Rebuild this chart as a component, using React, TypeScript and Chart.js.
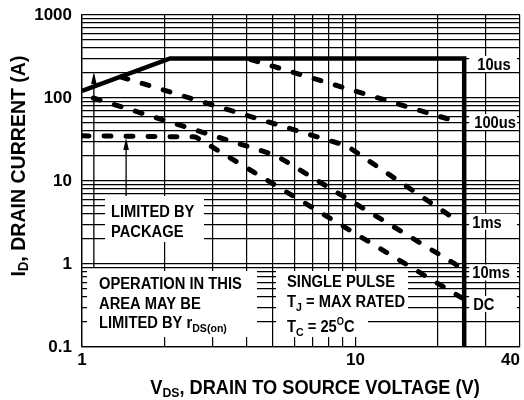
import React, { useEffect, useRef } from 'react';
import { Chart, registerables } from 'chart.js';

Chart.register(...registerables);

const FONT = '"Liberation Sans", Arial, Helvetica, sans-serif';

// ---- data (V_DS in volts, I_D in amperes) ----
const rdsOnLimitV = [1, 2.1, 25, 25];
const rdsOnLimitI = [122, 300, 300, 0.1];
const pulse100usV = [4.15, 23];
const pulse100usI = [290, 53];
const pulse1msV = [1.39, 9.3, 24];
const pulse1msI = [179, 26.5, 3.2];
const pulse10msV = [1.1, 5.1, 24];
const pulse10msI = [100, 20.5, 0.93];
const dcV = [1, 2.6, 24.5];
const dcI = [35, 34, 0.39];

// ---- axes ----
const xGridValues = [1, 2, 3, 4, 5, 6, 7, 8, 9, 10, 20, 30, 40];
const xLabelValues = [1, 10, 40];
const yGridValues = [
  0.1, 0.2, 0.3, 0.4, 0.5, 0.6, 0.7, 0.8, 0.9,
  1, 2, 3, 4, 5, 6, 7, 8, 9,
  10, 20, 30, 40, 50, 60, 70, 80, 90,
  100, 200, 300, 400, 500, 600, 700, 800, 900,
  1000,
];
const yLabelValues = [0.1, 1, 10, 100, 1000];

// ---- curve names at right edge ----
const curveNames = ['10us', '100us', '1ms', '10ms', 'DC'];
const curveNameLevels = [257, 51.4, 3.23, 0.79, 0.33];
const curveNameShift = [13, 10, 8, 8, 9];

// ---- arrows (V, I from, I to) ----
const arrowV = [1.105, 1.45];
const arrowFromI = [0.9, 6.4];
const arrowToI = [205, 33];

type Part = { t: string; size?: number; dy?: number };

function drawParts(
  ctx: CanvasRenderingContext2D,
  parts: Part[],
  x: number,
  y: number,
  hs: number,
  baseSize: number,
  center = false
) {
  ctx.save();
  let total = 0;
  for (const p of parts) {
    ctx.font = `bold ${p.size ?? baseSize}px ${FONT}`;
    total += ctx.measureText(p.t).width;
  }
  ctx.translate(x, y);
  ctx.scale(hs, 1);
  ctx.textAlign = 'left';
  ctx.textBaseline = 'alphabetic';
  ctx.fillStyle = '#000';
  let cx = center ? -total / 2 : 0;
  for (const p of parts) {
    ctx.font = `bold ${p.size ?? baseSize}px ${FONT}`;
    ctx.fillText(p.t, cx, p.dy ?? 0);
    cx += ctx.measureText(p.t).width;
  }
  ctx.restore();
}

const packageLines: Part[][] = [[{ t: 'LIMITED BY' }], [{ t: 'PACKAGE' }]];
const operationLines: Part[][] = [
  [{ t: 'OPERATION IN THIS' }],
  [{ t: 'AREA MAY BE' }],
  [{ t: 'LIMITED BY r' }, { t: 'DS(on)', size: 11.5, dy: 4 }],
];
const pulseLines: Part[][] = [
  [{ t: 'SINGLE PULSE' }],
  [{ t: 'T' }, { t: 'J', size: 11.5, dy: 4 }, { t: ' = MAX RATED' }],
  [{ t: 'T' }, { t: 'C', size: 11.5, dy: 4 }, { t: ' = 25' }, { t: 'O', size: 10, dy: -7 }, { t: 'C' }],
];

const annotationPlugin = {
  id: 'soaAnnotations',
  afterDraw(chart: any) {
    const ctx: CanvasRenderingContext2D = chart.ctx;
    const xs = chart.scales.x;
    const ys = chart.scales.y;
    ctx.save();

    // arrows
    ctx.strokeStyle = '#000';
    ctx.fillStyle = '#000';
    ctx.lineWidth = 1.3;
    for (let i = 0; i < arrowV.length; i++) {
      const px = xs.getPixelForValue(arrowV[i]);
      const y0 = ys.getPixelForValue(arrowFromI[i]);
      const y1 = ys.getPixelForValue(arrowToI[i]);
      ctx.beginPath();
      ctx.moveTo(px, y0);
      ctx.lineTo(px, y1 + 10);
      ctx.stroke();
      ctx.beginPath();
      ctx.moveTo(px, y1);
      ctx.lineTo(px - 2.8, y1 + 12);
      ctx.lineTo(px + 2.8, y1 + 12);
      ctx.closePath();
      ctx.fill();
    }

    // white label backgrounds
    ctx.fillStyle = '#fff';
    const rects = [
      [105, 196, 204, 242],
      [87, 271, 257, 337],
      [276, 271, 408, 312],
      [276, 312, 368, 337],
    ];
    for (const r of rects) ctx.fillRect(r[0], r[1], r[2] - r[0], r[3] - r[1]);

    const hs = 0.92;
    packageLines.forEach((l, i) => drawParts(ctx, l, 111, 217.3 + i * 19.4, hs, 16));
    operationLines.forEach((l, i) => drawParts(ctx, l, 99, 289 + i * 19.5, hs, 16));
    const spBase = [287.3, 307.3, 331.7];
    pulseLines.forEach((l, i) => drawParts(ctx, l, 287, spBase[i], hs, 16));

    // curve names
    const edge = xs.getPixelForValue(rdsOnLimitV[2]);
    curveNames.forEach((name, i) => {
      const cy = ys.getPixelForValue(curveNameLevels[i]);
      ctx.fillStyle = '#fff';
      ctx.fillRect(edge + 5, cy - 8, chart.chartArea.right - 3 - (edge + 5), 16);
      drawParts(ctx, [{ t: name }], edge + curveNameShift[i], cy + 6, hs, 16);
    });

    // axis titles
    drawParts(
      ctx,
      [{ t: 'V' }, { t: 'DS', size: 13.5, dy: 3 }, { t: ', DRAIN TO SOURCE VOLTAGE (V)' }],
      315,
      394,
      0.91,
      20,
      true
    );
    ctx.save();
    ctx.translate(24.5, 166);
    ctx.rotate(-Math.PI / 2);
    drawParts(
      ctx,
      [{ t: 'I' }, { t: 'D', size: 14, dy: 3 }, { t: ', DRAIN CURRENT (A)' }],
      0,
      0,
      0.93,
      21,
      true
    );
    ctx.restore();

    ctx.restore();
  },
};

function pts(xv: number[], yv: number[]) {
  return xv.map((v, i) => ({ x: v, y: yv[i] }));
}

export default function App() {
  const ref = useRef<HTMLCanvasElement>(null);

  useEffect(() => {
    const canvas = ref.current;
    if (!canvas) return;
    const tickFont = { family: FONT, size: 17, weight: 'bold' as const };
    const dashed = {
      borderColor: '#000',
      borderWidth: 5,
      borderDash: [7, 15],
      borderCapStyle: 'round' as const,
      pointRadius: 0,
      tension: 0,
      fill: false,
      xAxisID: 'x',
      yAxisID: 'y',
    };
    const chart = new Chart(canvas, {
      type: 'line',
      data: {
        datasets: [
          {
            label: 'rDS(on) / 10us',
            data: pts(rdsOnLimitV, rdsOnLimitI),
            borderColor: '#000',
            borderWidth: 4.5,
            borderCapStyle: 'butt',
            borderJoinStyle: 'miter',
            pointRadius: 0,
            tension: 0,
            fill: false,
            xAxisID: 'x',
            yAxisID: 'y',
          },
          { label: '100us', data: pts(pulse100usV, pulse100usI), ...dashed },
          { label: '1ms', data: pts(pulse1msV, pulse1msI), ...dashed },
          { label: '10ms', data: pts(pulse10msV, pulse10msI), ...dashed },
          { label: 'DC', data: pts(dcV, dcI), ...dashed },
        ],
      },
      options: {
        responsive: false,
        animation: false,
        events: [],
        layout: { padding: { left: 0, right: 4, top: 15, bottom: 0 } },
        plugins: {
          legend: { display: false },
          title: { display: false },
          tooltip: { enabled: false },
        },
        scales: {
          x: {
            type: 'logarithmic',
            position: 'bottom',
            min: 1,
            max: 40,
            grid: { color: '#000', lineWidth: 1.2, drawTicks: false },
            border: { display: true, color: '#000', width: 1.2 },
            ticks: {
              autoSkip: false,
              maxRotation: 0,
              minRotation: 0,
              align: 'inner',
              padding: 3,
              color: '#000',
              font: tickFont,
              // index 0 is a blank duplicate of the first gridline so that
              // "1" stays centred while the last label ("40") aligns inside
              callback: (v: any, i: number) =>
                i > 0 && xLabelValues.includes(Number(v)) ? String(v) : '',
            },
            afterBuildTicks: (s: any) => {
              s.ticks = [{ value: xGridValues[0] }, ...xGridValues.map((v) => ({ value: v }))];
            },
            afterFit: (s: any) => {
              s.height = 53;
              s.paddingLeft = 0;
              s.paddingRight = 0;
            },
          },
          y: {
            type: 'logarithmic',
            position: 'left',
            min: 0.1,
            max: 1000,
            grid: { color: '#000', lineWidth: 1.2, drawTicks: false },
            border: { display: true, color: '#000', width: 1.2 },
            ticks: {
              autoSkip: false,
              padding: 10,
              color: '#000',
              font: tickFont,
              callback: (v: any) => (yLabelValues.includes(Number(v)) ? String(v) : ''),
            },
            afterBuildTicks: (s: any) => {
              s.ticks = yGridValues.map((v) => ({ value: v }));
            },
            afterFit: (s: any) => {
              s.width = 82;
              s.paddingTop = 0;
              s.paddingBottom = 0;
            },
          },
        },
      } as any,
      plugins: [annotationPlugin],
    });
    return () => chart.destroy();
  }, []);

  return (
    <div style={{ position: 'fixed', left: 0, top: 0, width: 524, height: 400, background: '#fff' }}>
      <canvas ref={ref} width={524} height={400} style={{ display: 'block' }} />
    </div>
  );
}
